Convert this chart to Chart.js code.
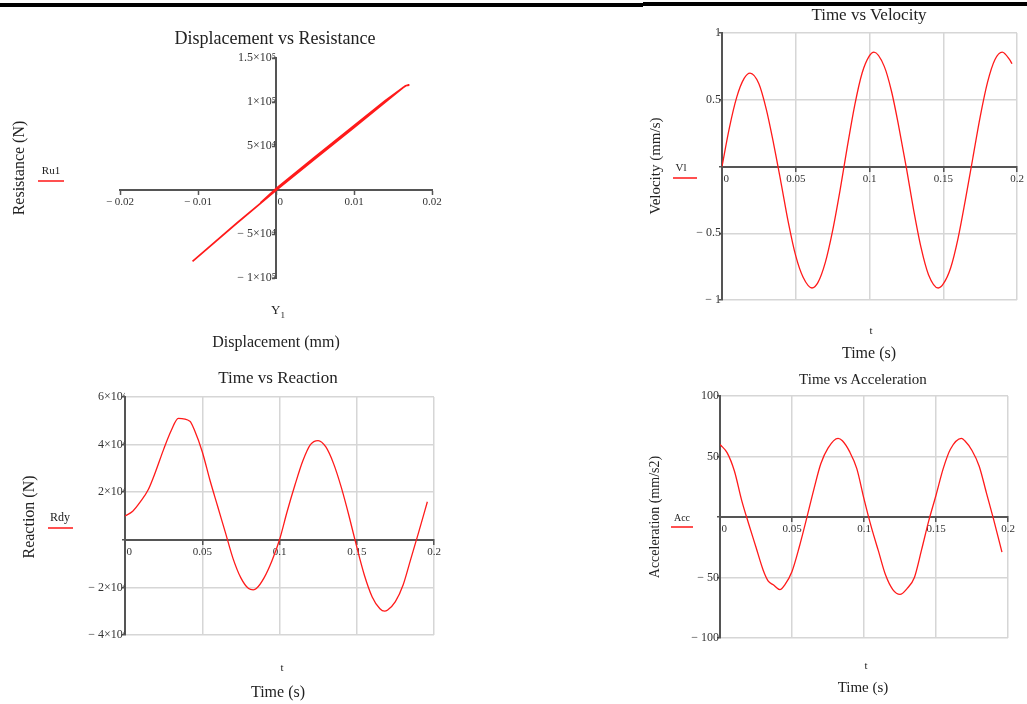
<!DOCTYPE html>
<html>
<head>
<meta charset="utf-8">
<script src="https://cdn.jsdelivr.net/npm/chart.js@4.4.0/dist/chart.umd.min.js"></script>
<style>
  body { margin: 0; background: #fff; width: 1027px; height: 704px; position: relative; overflow: hidden;
         font-family: 'Liberation Serif', serif; color: #222; }
  canvas { position: absolute; }
  .lbl { position: absolute; transform: translate(-50%, -50%); white-space: nowrap; line-height: 1; }
  .rot { transform: translate(-50%, -50%) rotate(-90deg); }
  .key { position: absolute; height: 2px; background: #ff5050; }
  .bar { position: absolute; background: #000; }
  sub { font-size: 70%; vertical-align: -4px; }
</style>
</head>
<body>
<div class="bar" style="left:0;top:3px;width:643px;height:4px"></div>
<div class="bar" style="left:643px;top:2px;width:384px;height:4px"></div>

<canvas id="disp" width="450" height="330" style="left:0;top:30px"></canvas>
<canvas id="vel" width="427" height="370" style="left:600px;top:0"></canvas>
<canvas id="react" width="450" height="344" style="left:0;top:360px"></canvas>
<canvas id="acc" width="427" height="344" style="left:600px;top:360px"></canvas>

<!-- Displacement vs Resistance -->
<div class="lbl" style="left:275px;top:38px;font-size:18px">Displacement vs Resistance</div>
<div class="lbl rot" style="left:19px;top:168px;font-size:16px">Resistance (N)</div>
<div class="lbl" style="left:51px;top:170px;font-size:11px">Ru1</div>
<div class="key" style="left:38px;top:180px;width:26px"></div>
<div class="lbl" style="left:278px;top:312px;font-size:13px">Y<sub>1</sub></div>
<div class="lbl" style="left:276px;top:342px;font-size:16px">Displacement (mm)</div>

<!-- Time vs Velocity -->
<div class="lbl" style="left:869px;top:14px;font-size:17px">Time vs Velocity</div>
<div class="lbl rot" style="left:655px;top:166px;font-size:15px">Velocity (mm/s)</div>
<div class="lbl" style="left:681px;top:167px;font-size:11px">Vl</div>
<div class="key" style="left:673px;top:177px;width:24px"></div>
<div class="lbl" style="left:871px;top:330px;font-size:11px">t</div>
<div class="lbl" style="left:869px;top:353px;font-size:16px">Time (s)</div>

<!-- Time vs Reaction -->
<div class="lbl" style="left:278px;top:377px;font-size:17px">Time vs Reaction</div>
<div class="lbl rot" style="left:29px;top:517px;font-size:16px">Reaction (N)</div>
<div class="lbl" style="left:60px;top:517px;font-size:12px">Rdy</div>
<div class="key" style="left:48px;top:527px;width:25px"></div>
<div class="lbl" style="left:282px;top:667px;font-size:11px">t</div>
<div class="lbl" style="left:278px;top:692px;font-size:16px">Time (s)</div>

<!-- Time vs Acceleration -->
<div class="lbl" style="left:863px;top:379px;font-size:15px">Time vs Acceleration</div>
<div class="lbl rot" style="left:655px;top:517px;font-size:14px">Acceleration (mm/s2)</div>
<div class="lbl" style="left:682px;top:518px;font-size:10px">Acc</div>
<div class="key" style="left:671px;top:526px;width:22px"></div>
<div class="lbl" style="left:866px;top:665px;font-size:11px">t</div>
<div class="lbl" style="left:863px;top:687px;font-size:15px">Time (s)</div>

<script>
// displacement vs resistance (Y1, Ru1) - goes up, turns at the top, comes back
const dispY1 = [-0.0107, -0.005, 0, 0.005, 0.010, 0.0163, 0.0167, 0.0171,
                0.0166, 0.014, 0.010, 0.005, 0, -0.002];
const resRu1 = [-81000, -37500, -500, 35500, 71000, 116500, 118800, 119200,
                118500, 101500, 73000, 37500, 1500, -14500];
const dispTicks = [-0.02, -0.01, 0, 0.01, 0.02];
const dispTickLabels = ['\u2212 0.02', '\u2212 0.01', '   0', '0.01', '0.02'];
const resTicks = [-100000, -50000, 0, 50000, 100000, 150000];
const resTickLabels = ['\u2212 1\u00d710\u2075', '\u2212 5\u00d710\u2074', '', '5\u00d710\u2074', '1\u00d710\u2075', '1.5\u00d710\u2075'];

// time axis shared by the three time plots
const timeTicks = [0, 0.05, 0.1, 0.15, 0.2];
const timeTickLabels = ['   0', '0.05', '0.1', '0.15', '0.2'];

// velocity Vl
const velT = [0, 0.005, 0.01, 0.015, 0.019, 0.025, 0.03, 0.035, 0.04, 0.045, 0.05, 0.055, 0.061, 0.065, 0.07, 0.075,
              0.08, 0.085, 0.09, 0.095, 0.1, 0.103, 0.11, 0.115, 0.12, 0.125, 0.13, 0.135, 0.14, 0.1466, 0.15,
              0.155, 0.16, 0.165, 0.17, 0.175, 0.18, 0.185, 0.19, 0.195, 0.1966];
const velVl = [0, 0.29, 0.52, 0.66, 0.70, 0.62, 0.43, 0.17, -0.12, -0.42, -0.67, -0.83, -0.91, -0.87, -0.72, -0.48,
               -0.18, 0.15, 0.46, 0.70, 0.83, 0.857, 0.75, 0.56, 0.29, -0.01, -0.33, -0.61, -0.81, -0.91, -0.88,
               -0.76, -0.54, -0.25, 0.06, 0.37, 0.63, 0.80, 0.857, 0.80, 0.77];
const velTicks = [-1, -0.5, 0, 0.5, 1];
const velTickLabels = ['\u2212 1', '\u2212 0.5', '', '0.5', '1'];

// reaction Rdy
const reactT = [0, 0.005, 0.01, 0.015, 0.02, 0.025, 0.03, 0.0345, 0.042, 0.045, 0.05, 0.055, 0.06, 0.065, 0.07,
                0.075, 0.08, 0.083, 0.085, 0.09, 0.095, 0.1, 0.105, 0.11, 0.115, 0.12, 0.125, 0.13, 0.135, 0.14,
                0.145, 0.15, 0.155, 0.16, 0.165, 0.168, 0.17, 0.175, 0.18, 0.185, 0.19, 0.1957];
const reactRdy = [10000, 12000, 16000, 21000, 29000, 38000, 46000, 51000, 49800, 46000, 37000, 25000, 14000, 3000,
                  -8000, -16000, -20500, -21000, -20500, -16000, -9000, 0, 12000, 23000, 33000, 40000, 41700, 39000,
                  32000, 22000, 10000, -3000, -15000, -24000, -29000, -30000, -29500, -26000, -19000, -8000, 3000, 16000];
const reactTicks = [-40000, -20000, 0, 20000, 40000, 60000];
const reactTickLabels = ['\u2212 4\u00d710\u2074', '\u2212 2\u00d710\u2074', '', '2\u00d710\u2074', '4\u00d710\u2074', '6\u00d710\u2074'];

// acceleration Acc
const accT = [0, 0.005, 0.01, 0.015, 0.02, 0.025, 0.03, 0.0335, 0.037, 0.0416, 0.045, 0.05, 0.055, 0.06, 0.065,
              0.07, 0.075, 0.082, 0.085, 0.09, 0.095, 0.1, 0.105, 0.11, 0.115, 0.12, 0.125, 0.13, 0.135, 0.14,
              0.145, 0.15, 0.155, 0.16, 0.1676, 0.17, 0.175, 0.18, 0.185, 0.19, 0.1958];
const accAcc = [60, 53, 38, 14, -6, -25, -44, -53, -56, -60, -56, -45, -25, -2, 22, 44, 57, 65, 63, 54, 40, 15, -8,
                -28, -48, -60, -64, -59, -50, -27, -3, 18, 40, 56, 65, 63, 55, 42, 20, -2, -29];
const accTicks = [-100, -50, 0, 50, 100];
const accTickLabels = ['\u2212 100', '\u2212 50', '', '50', '100'];

Chart.defaults.font.family = "'Liberation Serif', serif";
Chart.defaults.color = '#333';

const AXIS = '#555';
const GRID = '#d6d6d6';
const RED = '#ff1a1a';

const pts = (xs, ys) => xs.map((x, i) => ({ x, y: ys[i] }));

const fixedTicks = (values) => (scale) => { scale.ticks = values.map((value) => ({ value })); };

const baseOptions = (padding) => ({
  responsive: false,
  animation: false,
  devicePixelRatio: 1,
  layout: { padding },
  plugins: { legend: { display: false }, tooltip: { enabled: false } },
});

// Mathcad style: axes cross at zero, no grid
new Chart(document.getElementById('disp'), {
  type: 'scatter',
  data: { datasets: [{ data: pts(dispY1, resRu1), showLine: true, borderColor: RED, borderWidth: 1.7,
                       pointRadius: 0, tension: 0 }] },
  options: {
    ...baseOptions({ left: 120, right: 18, top: 28, bottom: 82 }),
    scales: {
      x: {
        type: 'linear', position: { y: 0 }, min: -0.02, max: 0.02,
        afterBuildTicks: fixedTicks(dispTicks),
        ticks: { callback: (v, i) => dispTickLabels[i], maxRotation: 0, autoSkip: false, padding: 2, font: { size: 11 } },
        grid: { drawOnChartArea: false, tickColor: AXIS, tickLength: 4, tickWidth: 1.5 },
        border: { color: AXIS, width: 2 },
      },
      y: {
        type: 'linear', position: { x: 0 }, min: -100000, max: 150000,
        afterBuildTicks: fixedTicks(resTicks),
        ticks: { callback: (v, i) => resTickLabels[i], autoSkip: false, padding: -4, z: 1, font: { size: 12 } },
        grid: { drawOnChartArea: false, tickColor: AXIS, tickLength: 3, tickWidth: 1.5 },
        border: { color: AXIS, width: 2 },
      },
    },
  },
});

function timeChart(id, t, values, yMin, yMax, yTicks, yLabels, yWidth, labelPad, padding) {
  return new Chart(document.getElementById(id), {
    type: 'scatter',
    data: { datasets: [{ data: pts(t, values), showLine: true, borderColor: RED, borderWidth: 1.3,
                         pointRadius: 0, cubicInterpolationMode: 'monotone' }] },
    options: {
      ...baseOptions(padding),
      scales: {
        x: {
          type: 'linear', position: { y: 0 }, min: 0, max: 0.2,
          afterBuildTicks: fixedTicks(timeTicks),
          ticks: { callback: (v, i) => timeTickLabels[i], maxRotation: 0, autoSkip: false, padding: 2, font: { size: 11 } },
          grid: { color: GRID, lineWidth: 1.5, tickColor: AXIS, tickLength: 4 },
          border: { color: AXIS, width: 2 },
        },
        y: {
          type: 'linear', position: 'left', min: yMin, max: yMax,
          afterFit: (s) => { s.width = yWidth; },
          afterBuildTicks: fixedTicks(yTicks),
          ticks: { callback: (v, i) => yLabels[i], autoSkip: false, padding: labelPad, z: 1, font: { size: 12 } },
          grid: { color: GRID, lineWidth: 1.5, tickColor: AXIS, tickLength: 3 },
          border: { color: AXIS, width: 2 },
        },
      },
    },
  });
}

timeChart('vel', velT, velVl, -1, 1, velTicks, velTickLabels, 122, -2, { left: 0, right: 10, top: 33, bottom: 70 });
timeChart('react', reactT, reactRdy, -40000, 60000, reactTicks, reactTickLabels, 125, -5, { left: 0, right: 16, top: 37, bottom: 69 });
timeChart('acc', accT, accAcc, -100, 100, accTicks, accTickLabels, 120, -2, { left: 0, right: 19, top: 36, bottom: 66 });
</script>
</body>
</html>
